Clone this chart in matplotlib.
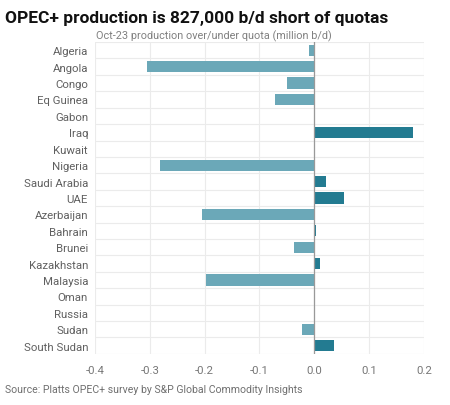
import matplotlib
matplotlib.use('Agg')
import matplotlib.pyplot as plt
import numpy as np

countries = ['Algeria', 'Angola', 'Congo', 'Eq Guinea', 'Gabon', 'Iraq', 'Kuwait',
             'Nigeria', 'Saudi Arabia', 'UAE', 'Azerbaijan', 'Bahrain', 'Brunei',
             'Kazakhstan', 'Malaysia', 'Oman', 'Russia', 'Sudan', 'South Sudan']
values = [-0.009, -0.305, -0.050, -0.071, 0.0, 0.181, 0.002,
          -0.282, 0.022, 0.055, -0.205, 0.004, -0.037,
          0.010, -0.197, -0.001, 0.0, -0.022, 0.036]
xticks = [-0.4, -0.3, -0.2, -0.1, 0.0, 0.1, 0.2]

plt.rcParams['font.family'] = ['Roboto', 'DejaVu Sans']

fig = plt.figure(figsize=(4.5, 4.06), dpi=100)
ax = fig.add_axes([0.211, 0.126, 0.731, 0.768])

y = np.arange(len(countries))
colors = ['#237b91' if v > 0 else '#6ba8b8' for v in values]
ax.barh(y, values, height=0.68, color=colors, zorder=3)

ax.set_ylim(len(countries) - 0.5, -0.5)
ax.set_xlim(-0.4, 0.2)
ax.set_yticks(y)
ax.set_yticklabels(countries)
ax.set_xticks(xticks)
ax.set_xticklabels([f'{t:.1f}' for t in xticks])

# grid: vertical at ticks, horizontal between rows
for t in xticks:
    ax.axvline(t, color='#ebebeb', lw=0.8, zorder=1)
for i in range(len(countries) + 1):
    ax.axhline(i - 0.5, color='#ebebeb', lw=0.8, zorder=1)
ax.axvline(0, color='#999999', lw=0.9, zorder=4)

for s in ax.spines.values():
    s.set_visible(False)
ax.tick_params(length=0, labelsize=8.2, colors='#606060', pad=5)
ax.tick_params(axis='x', pad=8, colors='#777777')

fig.text(0.012, 0.955, 'OPEC+ production is 827,000 b/d short of quotas',
         fontsize=12.5, fontweight='bold', color='#111111', va='center')
fig.text(0.214, 0.91, 'Oct-23 production over/under quota (million b/d)',
         fontsize=7.8, color='#808080', va='center')
fig.text(0.012, 0.04, 'Source: Platts OPEC+ survey by S&P Global Commodity Insights',
         fontsize=7.6, color='#707070', va='center')

fig.savefig('out.png', dpi=100)
